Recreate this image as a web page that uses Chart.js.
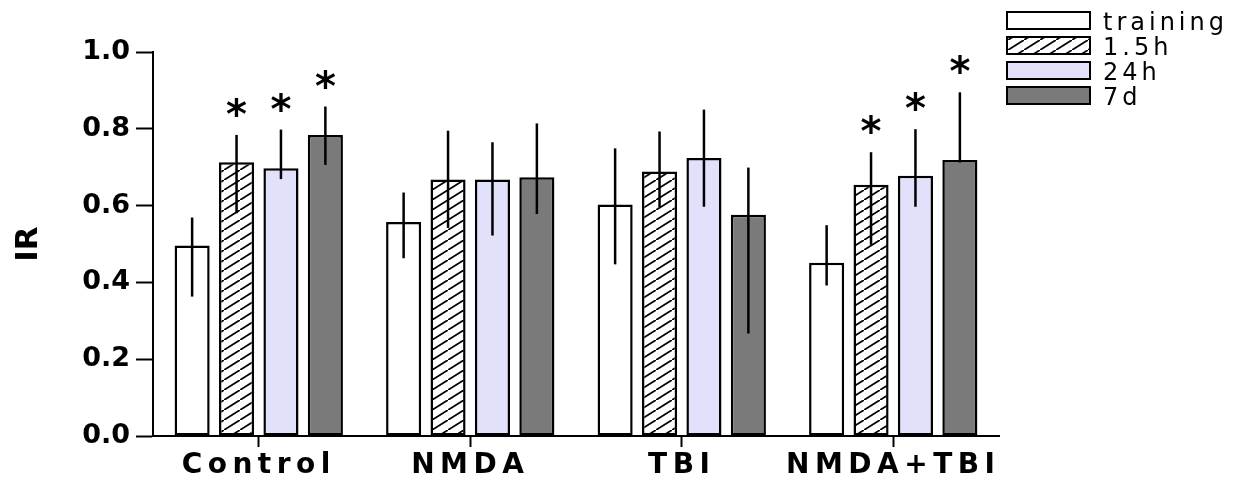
<!DOCTYPE html>
<html>
<head>
<meta charset="utf-8">
<script src="https://cdn.jsdelivr.net/npm/chart.js@4.4.1/dist/chart.umd.min.js"></script>
<style>
  html, body { margin: 0; padding: 0; background: #fff; }
</style>
</head>
<body>
<canvas id="irChart" width="1234" height="479"></canvas>
<script>
// groups on the x axis and the four time points
const groups = ['Control', 'NMDA', 'TBI', 'NMDA+TBI'];
const seriesNames = ['training', '1.5h', '24h', '7d'];
const yTicks = [0, 0.2, 0.4, 0.6, 0.8, 1.0];

// bar heights (IR)
const training = [0.496, 0.557, 0.603, 0.451];
const h1_5 = [0.713, 0.668, 0.689, 0.654];
const h24 = [0.697, 0.668, 0.724, 0.678];
const d7 = [0.784, 0.674, 0.576, 0.719];

// error bar ends
const trainingHi = [0.569, 0.634, 0.749, 0.549];
const trainingLo = [0.363, 0.463, 0.447, 0.392];
const h1_5Hi = [0.784, 0.795, 0.793, 0.739];
const h1_5Lo = [0.580, 0.542, 0.595, 0.498];
const h24Hi = [0.798, 0.765, 0.850, 0.799];
const h24Lo = [0.669, 0.522, 0.597, 0.597];
const d7Hi = [0.858, 0.814, 0.699, 0.895];
const d7Lo = [0.706, 0.578, 0.267, 0.712];

// significance asterisks
const trainingStar = [false, false, false, false];
const h1_5Star = [true, false, false, true];
const h24Star = [true, false, false, true];
const d7Star = [true, false, false, true];

function hatchPattern() {
    const tile = document.createElement('canvas');
    tile.width = 16;
    tile.height = 10;
    const c = tile.getContext('2d');
    c.fillStyle = '#fff';
    c.fillRect(0, 0, 16, 10);
    c.strokeStyle = '#000';
    c.lineWidth = 1.8;
    c.beginPath();
    c.moveTo(-16, 20);
    c.lineTo(32, -10);
    c.stroke();
    return c.createPattern(tile, 'repeat');
}

const ctx = document.getElementById('irChart').getContext('2d');
const hatch = hatchPattern();

function makeSet(label, data, hi, lo, stars, fill) {
    return {
        label: label,
        data: data,
        errHigh: hi,
        errLow: lo,
        stars: stars,
        backgroundColor: fill,
        borderColor: '#000',
        borderWidth: 2.5,
        borderSkipped: false,
        categoryPercentage: 0.84,
        barPercentage: 0.79
    };
}

const errorBars = {
    id: 'errorBars',
    afterDatasetsDraw(chart) {
        const c = chart.ctx;
        const y = chart.scales.y;
        c.save();
        c.strokeStyle = '#000';
        c.lineWidth = 2.5;
        c.fillStyle = '#000';
        c.font = 'bold 40px "DejaVu Sans"';
        c.textAlign = 'center';
        c.textBaseline = 'alphabetic';
        chart.data.datasets.forEach((ds, di) => {
            chart.getDatasetMeta(di).data.forEach((bar, i) => {
                const top = y.getPixelForValue(ds.errHigh[i]);
                const bottom = y.getPixelForValue(ds.errLow[i]);
                c.beginPath();
                c.moveTo(bar.x, top);
                c.lineTo(bar.x, bottom);
                c.stroke();
                if (ds.stars[i]) {
                    c.fillText('*', bar.x, top - 7);
                }
            });
        });
        c.restore();
        // x axis labels are drawn after this (ticks.z = 1), spaced out like the original
        c.letterSpacing = '5.5px';
    },
    afterDraw(chart) {
        const c = chart.ctx;
        c.letterSpacing = '0px';
        // legend, top right
        c.save();
        c.font = '24px "DejaVu Sans"';
        c.letterSpacing = '4px';
        c.textAlign = 'left';
        c.textBaseline = 'alphabetic';
        chart.data.datasets.forEach((ds, i) => {
            const top = 12 + i * 25;
            c.fillStyle = ds.backgroundColor;
            c.fillRect(1007, top, 83, 17);
            c.strokeStyle = '#000';
            c.lineWidth = 2;
            c.strokeRect(1007, top, 83, 17);
            c.fillStyle = '#000';
            c.fillText(ds.label, 1103, top + 18);
        });
        c.restore();
        c.letterSpacing = '0px';
    }
};

const irChart = new Chart(ctx, {
    type: 'bar',
    data: {
        labels: groups,
        datasets: [
            makeSet(seriesNames[0], training, trainingHi, trainingLo, trainingStar, '#ffffff'),
            makeSet(seriesNames[1], h1_5, h1_5Hi, h1_5Lo, h1_5Star, hatch),
            makeSet(seriesNames[2], h24, h24Hi, h24Lo, h24Star, '#e1e1fb'),
            makeSet(seriesNames[3], d7, d7Hi, d7Lo, d7Star, '#7a7a7a')
        ]
    },
    options: {
        responsive: false,
        animation: false,
        layout: { padding: { top: 52, right: 235, left: 0, bottom: 0 } },
        plugins: {
            legend: { display: false },
            tooltip: { enabled: false }
        },
        scales: {
            x: {
                offset: true,
                grid: { offset: false, drawOnChartArea: false, tickLength: 11, tickWidth: 2, tickColor: '#000' },
                border: { color: '#000', width: 2 },
                ticks: {
                    z: 1,
                    color: '#000',
                    padding: 2,
                    maxRotation: 0,
                    autoSkip: false,
                    font: { family: 'DejaVu Sans', weight: 'bold', size: 28 }
                },
                afterFit: (scale) => { scale.height = 43; }
            },
            y: {
                min: 0,
                max: 1,
                afterBuildTicks: (axis) => { axis.ticks = yTicks.map(v => ({ value: v })); },
                grid: { drawOnChartArea: false, tickLength: 17, tickWidth: 2, tickColor: '#000' },
                border: { color: '#000', width: 2 },
                ticks: {
                    color: '#000',
                    padding: 6,
                    font: { family: 'DejaVu Sans', weight: 'bold', size: 27 },
                    callback: (v) => v.toFixed(1)
                },
                title: {
                    display: true,
                    text: 'IR',
                    color: '#000',
                    padding: { top: 10, bottom: 4 },
                    font: { family: 'DejaVu Sans', weight: 'bold', size: 31 }
                },
                afterFit: (scale) => { scale.width = 153; }
            }
        }
    },
    plugins: [errorBars]
});
</script>
</body>
</html>
